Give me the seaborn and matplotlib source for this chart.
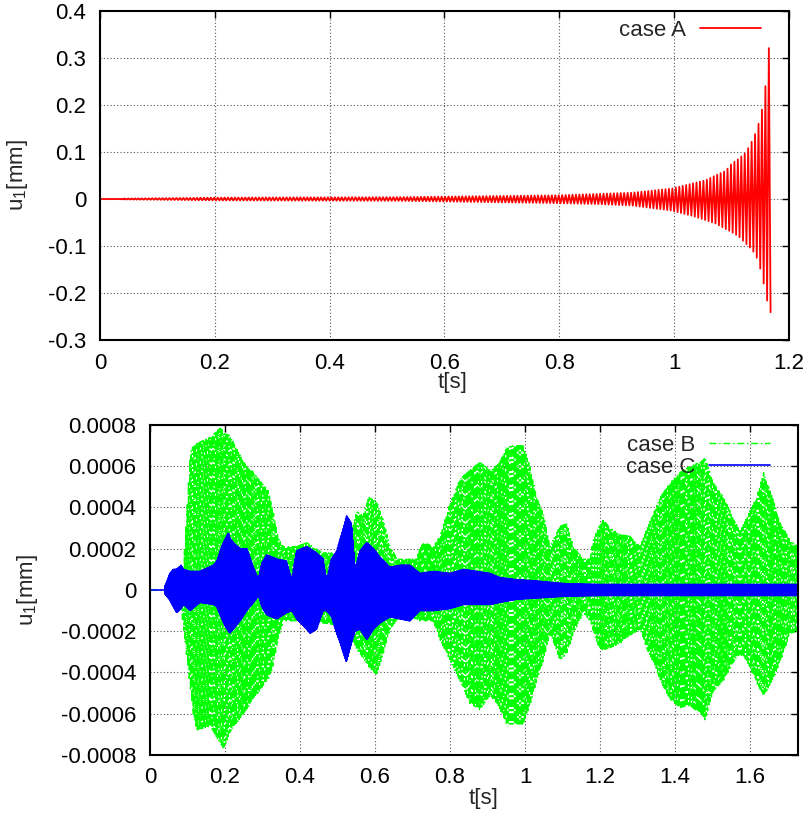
import numpy as np
import pandas as pd
import matplotlib
matplotlib.use("Agg")
import matplotlib.pyplot as plt
from matplotlib.ticker import FuncFormatter
import seaborn as sns

# ---------------------------------------------------------------------------
# Envelopes of the displacement signals u1 [mm] over time t [s]
# ---------------------------------------------------------------------------
# case A (growing oscillation)
a_time = [0.000, 0.040, 0.200, 0.522, 0.800, 0.870, 0.927, 0.997, 1.032, 1.055,
          1.072, 1.090, 1.100, 1.113, 1.125, 1.136, 1.141, 1.144, 1.147, 1.150,
          1.153, 1.156, 1.159, 1.162, 1.165, 1.168]
a_upper = [0.000, 0.001, 0.003, 0.004, 0.008, 0.011, 0.0135, 0.0225, 0.033, 0.040,
           0.050, 0.060, 0.075, 0.086, 0.099, 0.124, 0.138, 0.148, 0.160, 0.172,
           0.190, 0.215, 0.240, 0.280, 0.321, 0.321]
a_lower = [0.000, 0.001, 0.003, 0.004, 0.009, 0.011, 0.014, 0.025, 0.036, 0.045,
           0.052, 0.064, 0.070, 0.080, 0.095, 0.108, 0.118, 0.125, 0.135, 0.148,
           0.165, 0.180, 0.200, 0.216, 0.230, 0.241]

# case B
b_time = [0.000, 0.075, 0.080, 0.089, 0.107, 0.115, 0.124, 0.160, 0.190, 0.196,
          0.213, 0.249, 0.276, 0.284, 0.307, 0.316, 0.324, 0.333, 0.342, 0.356,
          0.390, 0.418, 0.460, 0.498, 0.533, 0.551, 0.569, 0.582, 0.604, 0.622,
          0.640, 0.660, 0.711, 0.720, 0.733, 0.755, 0.773, 0.800, 0.827, 0.853,
          0.880, 0.907, 0.929, 0.951, 0.969, 0.995, 1.013, 1.031, 1.049, 1.067,
          1.093, 1.111, 1.129, 1.156, 1.173, 1.182, 1.200, 1.209, 1.227, 1.253,
          1.280, 1.307, 1.324, 1.342, 1.364, 1.387, 1.413, 1.440, 1.467, 1.480,
          1.502, 1.529, 1.556, 1.573, 1.591, 1.618, 1.636, 1.658, 1.680, 1.707,
          1.728]
b_upper = [0.0, 0.0, 0.5, 1.1, 6.6, 7.0, 7.1, 7.4, 7.9, 7.6,
           7.5, 6.2, 5.7, 5.5, 5.0, 4.8, 4.2, 3.4, 2.5, 2.1,
           2.1, 2.3, 1.8, 1.8, 2.5, 3.8, 3.6, 4.5, 4.3, 3.4,
           2.1, 1.5, 1.5, 2.1, 2.3, 2.1, 2.6, 4.2, 5.4, 5.8,
           6.2, 5.8, 6.1, 6.9, 7.0, 7.0, 6.0, 4.5, 3.7, 2.1,
           3.1, 3.2, 2.1, 1.5, 1.5, 2.4, 3.2, 3.4, 3.0, 2.7,
           2.6, 2.1, 2.9, 3.7, 4.6, 5.2, 5.7, 6.0, 6.2, 6.4,
           5.2, 4.5, 3.5, 2.8, 3.5, 4.5, 5.7, 4.6, 3.3, 2.4,
           2.1]
b_lower = [0.0, 0.0, 0.5, 1.8, 4.7, 6.0, 6.8, 6.6, 7.5, 7.7,
           6.9, 6.0, 5.3, 5.1, 4.5, 4.3, 4.0, 3.2, 2.4, 1.5,
           1.5, 1.6, 1.6, 1.7, 2.2, 2.9, 3.3, 3.7, 4.1, 3.1,
           1.9, 1.4, 1.4, 1.5, 1.5, 1.5, 2.4, 3.4, 4.4, 5.5,
           5.8, 5.1, 5.6, 6.5, 6.5, 6.5, 5.6, 4.4, 3.4, 2.1,
           3.4, 3.1, 2.1, 1.1, 1.5, 2.0, 2.9, 2.9, 2.8, 2.6,
           2.2, 1.9, 2.8, 3.5, 4.5, 5.3, 5.7, 5.6, 6.0, 6.3,
           4.9, 4.4, 3.5, 3.1, 3.4, 4.5, 5.1, 4.5, 3.5, 2.1,
           2.0]

# case C
c_time = [0.000, 0.040, 0.049, 0.053, 0.062, 0.071, 0.083, 0.089, 0.107, 0.133,
          0.169, 0.178, 0.187, 0.196, 0.209, 0.213, 0.222, 0.240, 0.258, 0.276,
          0.289, 0.298, 0.311, 0.338, 0.364, 0.378, 0.391, 0.418, 0.427, 0.444,
          0.462, 0.471, 0.484, 0.498, 0.511, 0.524, 0.538, 0.547, 0.560, 0.578,
          0.596, 0.613, 0.640, 0.667, 0.693, 0.720, 0.756, 0.800, 0.836, 0.871,
          0.907, 0.933, 0.978, 1.022, 1.111, 1.200, 1.728]
c_upper = [0.0, 0.2, 0.6, 0.8, 1.0, 1.0, 1.2, 1.0, 0.9, 0.9,
           1.2, 1.4, 1.9, 2.3, 2.8, 2.5, 2.3, 2.0, 2.0, 1.1,
           0.5, 1.3, 1.7, 1.5, 1.4, 0.5, 1.9, 2.1, 2.0, 1.8,
           1.5, 0.5, 1.5, 1.9, 2.7, 3.6, 3.2, 1.0, 1.9, 2.3,
           2.0, 1.6, 1.1, 1.2, 1.2, 0.8, 0.9, 0.8, 1.0, 0.9,
           0.8, 0.6, 0.5, 0.45, 0.3, 0.27, 0.27]
c_lower = [0.0, 0.2, 0.4, 0.5, 0.8, 1.1, 0.9, 0.7, 1.0, 0.6,
           0.7, 0.8, 1.2, 1.6, 2.0, 2.1, 1.9, 1.5, 1.0, 0.6,
           0.3, 0.8, 1.2, 1.4, 1.1, 1.0, 1.4, 1.9, 2.1, 1.9,
           1.0, 1.0, 1.3, 2.1, 2.8, 3.5, 2.5, 2.0, 1.9, 2.4,
           1.9, 1.6, 1.3, 1.4, 1.5, 1.0, 1.0, 0.9, 0.7, 0.7,
           0.7, 0.6, 0.45, 0.4, 0.3, 0.27, 0.27]

B_SCALE = 1e-4  # case B / case C envelopes are given in units of 1e-4 mm

x_ticks_top = [0, 0.2, 0.4, 0.6, 0.8, 1.0, 1.2]
y_ticks_top = [-0.3, -0.2, -0.1, 0, 0.1, 0.2, 0.3, 0.4]
x_ticks_bot = [0, 0.2, 0.4, 0.6, 0.8, 1.0, 1.2, 1.4, 1.6]
y_ticks_bot = [-0.0008, -0.0006, -0.0004, -0.0002, 0, 0.0002, 0.0004, 0.0006, 0.0008]


def oscillation(times, upper, lower, t_on, t_end, half, scale=1.0):
    """Trace alternating between the upper and lower envelope, one peak
    every `half` seconds, flat at zero before `t_on`."""
    n = int(round((t_end - t_on) / half))
    tk = t_end - half * np.arange(n, -1, -1)
    up = np.interp(tk, times, upper) * scale
    lo = np.interp(tk, times, lower) * scale
    from_end = np.arange(len(tk))[::-1]
    val = np.where(from_end % 2 == 0, -lo, up)
    t = np.concatenate([[0.0, tk[0] - 1e-6], tk])
    v = np.concatenate([[0.0, 0.0], val])
    return pd.DataFrame({"t": t, "u": v})


sns.set_style("white")
FS = 16
plt.rcParams["font.family"] = ["Liberation Sans", "DejaVu Sans"]
plt.rcParams["font.size"] = FS
plt.rcParams["mathtext.fontset"] = "custom"
plt.rcParams["mathtext.rm"] = "Liberation Sans"
plt.rcParams["mathtext.it"] = "Liberation Sans"

fig = plt.figure(figsize=(8.10, 8.14), dpi=100)
ax1 = fig.add_axes([0.1235, 0.5823, 0.8505, 0.4042])
ax2 = fig.add_axes([0.1852, 0.0725, 0.8000, 0.4054])

fmt = FuncFormatter(lambda v, p: "%g" % round(v, 6))

for ax in (ax1, ax2):
    for s in ax.spines.values():
        s.set_linewidth(1.5)
        s.set_color("black")
    ax.tick_params(direction="in", length=5, width=1.0, top=True, right=True,
                   labelsize=FS, colors="black")
    ax.tick_params(axis="x", pad=9)
    ax.tick_params(axis="y", pad=10)
    ax.grid(True, color="#555555", linestyle=(0, (1, 2)), linewidth=0.8)
    ax.set_axisbelow(True)
    ax.xaxis.set_major_formatter(fmt)
    ax.yaxis.set_major_formatter(fmt)

leg_kw = dict(loc="upper right", frameon=False, markerfirst=False, fontsize=FS,
              handlelength=2.75, handletextpad=0.63, borderaxespad=0.0,
              labelspacing=0.05)

# ---- top panel: case A ----
df_a = oscillation(a_time, a_upper, a_lower, 0.040, 1.168, 0.003)
sns.lineplot(data=df_a, x="t", y="u", ax=ax1, color="#ff0000", linewidth=1.3,
             estimator=None, sort=False, label="case A")
ax1.set_xlim(0, 1.2)
ax1.set_ylim(-0.3, 0.4)
ax1.set_xticks(x_ticks_top)
ax1.set_yticks(y_ticks_top)
ax1.set_xlabel("t[s]", fontsize=FS)
ax1.set_ylabel("u$_1$[mm]", fontsize=FS)
ax1.xaxis.set_label_coords(0.512, -0.098)
ax1.yaxis.set_label_coords(-0.1016, 0.5)
ax1.legend(bbox_to_anchor=(0.972, 1.0), **leg_kw)

# ---- bottom panel: case B and case C ----
df_b = oscillation(b_time, b_upper, b_lower, 0.075, 1.728, 0.0018, B_SCALE)
df_c = oscillation(c_time, c_upper, c_lower, 0.040, 1.728, 0.0012, B_SCALE)
sns.lineplot(data=df_b, x="t", y="u", ax=ax2, color="#00ff00", linewidth=1.0,
             linestyle=(0, (5, 2, 1, 2)), estimator=None, sort=False,
             label="case B")
sns.lineplot(data=df_c, x="t", y="u", ax=ax2, color="#0000ff", linewidth=1.2,
             estimator=None, sort=False, label="case C")
ax2.set_xlim(0, 1.728)
ax2.set_ylim(-0.0008, 0.0008)
ax2.set_xticks(x_ticks_bot)
ax2.set_yticks(y_ticks_bot)
ax2.set_xlabel("t[s]", fontsize=FS)
ax2.set_ylabel("u$_1$[mm]", fontsize=FS)
ax2.xaxis.set_label_coords(0.514, -0.1)
ax2.yaxis.set_label_coords(-0.170, 0.5)
ax2.legend(bbox_to_anchor=(0.971, 0.997), **leg_kw)

fig.savefig("out.png", dpi=100)
